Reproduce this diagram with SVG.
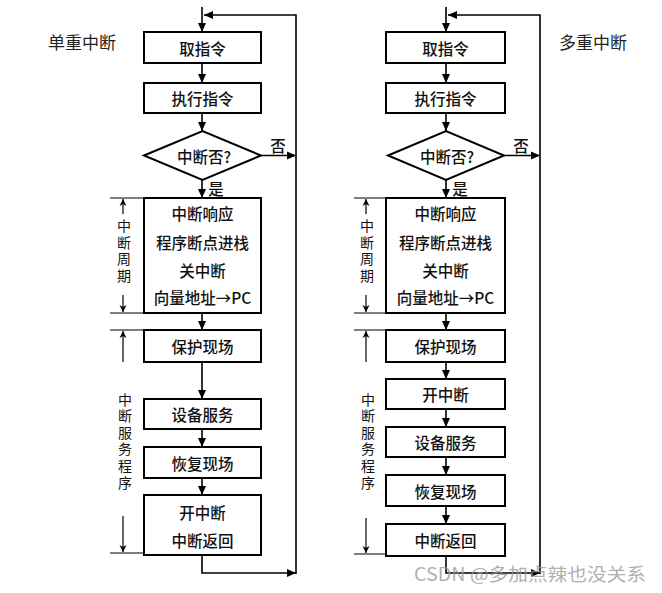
<svg xmlns="http://www.w3.org/2000/svg" width="662" height="593" viewBox="0 0 662 593">
<style>
.box{fill:#fff;stroke:#000;stroke-width:2}
.t{font-family:"Noto Sans CJK SC","Liberation Sans",sans-serif;font-size:15.5px;font-weight:500;text-anchor:middle;dominant-baseline:central;fill:#111}
.v{font-family:"Noto Sans CJK SC","Liberation Sans",sans-serif;font-size:14px;text-anchor:middle;fill:#111;writing-mode:vertical-rl;text-orientation:upright;letter-spacing:2.6px}
.title{font-family:"Noto Sans CJK SC","Liberation Sans",sans-serif;font-size:17px;fill:#222;dominant-baseline:central}
.c{fill:none;stroke:#000;stroke-width:1.6}
.b{fill:none;stroke:#000;stroke-width:1.2}
</style>
<defs>
<marker id="ah" markerWidth="10" markerHeight="10" refX="9" refY="5" orient="auto" markerUnits="userSpaceOnUse">
<path d="M0,1 L9,5 L0,9 Z" fill="#000"/>
</marker>
<marker id="sh" markerWidth="8" markerHeight="10" refX="7" refY="4" orient="auto" markerUnits="userSpaceOnUse">
<path d="M0,0.5 L7,4 L0,7.5 L2,4 Z" fill="#000"/>
</marker>
</defs>
<rect width="662" height="593" fill="#fff"/>

<text class="title" x="48" y="41">单重中断</text>
<text class="title" x="559" y="41">多重中断</text>

<g id="connectors">
<!-- left chart -->
<path class="c" d="M202,7 V32" marker-end="url(#ah)"/>
<path class="c" d="M202,63 V83" marker-end="url(#ah)"/>
<path class="c" d="M202,113 V131" marker-end="url(#ah)"/>
<path class="c" d="M202,180 V198" marker-end="url(#ah)"/>
<path class="c" d="M261,155.5 H296" marker-end="url(#ah)"/>
<path class="c" d="M202,313 V330" marker-end="url(#ah)"/>
<path class="c" d="M202,362 V399" marker-end="url(#ah)"/>
<path class="c" d="M202,429 V447" marker-end="url(#ah)"/>
<path class="c" d="M202,478 V495" marker-end="url(#ah)"/>
<path class="c" d="M202,555 V573 H296" marker-end="url(#ah)"/>
<path class="c" d="M296,574 V15 H204" marker-end="url(#ah)"/>
<text class="t" x="278" y="145">否</text>
<text class="t" x="216" y="188">是</text>
<!-- right chart -->
<path class="c" d="M446,7 V32" marker-end="url(#ah)"/>
<path class="c" d="M446,63 V83" marker-end="url(#ah)"/>
<path class="c" d="M446,113 V131" marker-end="url(#ah)"/>
<path class="c" d="M446,180 V198" marker-end="url(#ah)"/>
<path class="c" d="M504,155.5 H540" marker-end="url(#ah)"/>
<path class="c" d="M446,313 V330" marker-end="url(#ah)"/>
<path class="c" d="M446,362 V379" marker-end="url(#ah)"/>
<path class="c" d="M446,409 V427" marker-end="url(#ah)"/>
<path class="c" d="M446,457 V475" marker-end="url(#ah)"/>
<path class="c" d="M446,506 V524" marker-end="url(#ah)"/>
<path class="c" d="M446,556 V573 H540" marker-end="url(#ah)"/>
<path class="c" d="M540,574 V15 H448" marker-end="url(#ah)"/>
<text class="t" x="521" y="145">否</text>
<text class="t" x="460" y="188">是</text>
</g>

<g id="brackets-left">
<path class="b" d="M110,198 H143 M110,313 H143 M110,330 H143 M110,553 H143"/>
<path class="b" d="M123,214 V199" marker-end="url(#sh)"/>
<path class="b" d="M123,295 V312" marker-end="url(#sh)"/>
<path class="b" d="M123,362 V331" marker-end="url(#sh)"/>
<path class="b" d="M123,516 V552" marker-end="url(#sh)"/>
<text class="v" x="124" y="252">中断周期</text>
<text class="v" x="125" y="442">中断服务程序</text>
</g>
<g id="brackets-right">
<path class="b" d="M354,198 H386 M354,313 H386 M354,330 H386 M354,554 H386"/>
<path class="b" d="M366,214 V199" marker-end="url(#sh)"/>
<path class="b" d="M366,295 V312" marker-end="url(#sh)"/>
<path class="b" d="M366,362 V331" marker-end="url(#sh)"/>
<path class="b" d="M366,518 V553" marker-end="url(#sh)"/>
<text class="v" x="367" y="252">中断周期</text>
<text class="v" x="368" y="442">中断服务程序</text>
</g>

<!-- left nodes -->
<g id="L-fetch"><rect class="box" x="144" y="32" width="117" height="31"/><text class="t" x="202.5" y="47.5">取指令</text></g>
<g id="L-exec"><rect class="box" x="144" y="83" width="117" height="30"/><text class="t" x="202.5" y="98">执行指令</text></g>
<g id="L-decide"><polygon class="box" points="144,155.5 202.5,131 261,155.5 202.5,180"/><text class="t" x="204" y="156">中断否?</text></g>
<g id="L-cycle"><rect class="box" x="144" y="198" width="117" height="115"/>
<text class="t" x="202.5" y="213">中断响应</text>
<text class="t" x="202.5" y="242">程序断点进栈</text>
<text class="t" x="202.5" y="270">关中断</text>
<text class="t" x="202.5" y="297">向量地址→PC</text></g>
<g id="L-save"><rect class="box" x="144" y="330" width="117" height="32"/><text class="t" x="202.5" y="346">保护现场</text></g>
<g id="L-serve"><rect class="box" x="144" y="399" width="117" height="30"/><text class="t" x="202.5" y="414">设备服务</text></g>
<g id="L-restore"><rect class="box" x="144" y="447" width="117" height="31"/><text class="t" x="202.5" y="462.5">恢复现场</text></g>
<g id="L-return"><rect class="box" x="144" y="495" width="117" height="60"/>
<text class="t" x="202.5" y="512">开中断</text>
<text class="t" x="202.5" y="540">中断返回</text></g>

<!-- right nodes -->
<g id="R-fetch"><rect class="box" x="386" y="32" width="119" height="31"/><text class="t" x="445.5" y="47.5">取指令</text></g>
<g id="R-exec"><rect class="box" x="386" y="83" width="119" height="30"/><text class="t" x="445.5" y="98">执行指令</text></g>
<g id="R-decide"><polygon class="box" points="388,155.5 446,131 504,155.5 446,180"/><text class="t" x="447" y="156">中断否?</text></g>
<g id="R-cycle"><rect class="box" x="386" y="198" width="119" height="115"/>
<text class="t" x="445.5" y="213">中断响应</text>
<text class="t" x="445.5" y="242">程序断点进栈</text>
<text class="t" x="445.5" y="270">关中断</text>
<text class="t" x="445.5" y="297">向量地址→PC</text></g>
<g id="R-save"><rect class="box" x="386" y="330" width="119" height="32"/><text class="t" x="445.5" y="346">保护现场</text></g>
<g id="R-enable"><rect class="box" x="386" y="379" width="119" height="30"/><text class="t" x="445.5" y="394">开中断</text></g>
<g id="R-serve"><rect class="box" x="386" y="427" width="119" height="30"/><text class="t" x="445.5" y="442">设备服务</text></g>
<g id="R-restore"><rect class="box" x="386" y="475" width="119" height="31"/><text class="t" x="445.5" y="490.5">恢复现场</text></g>
<g id="R-return"><rect class="box" x="386" y="524" width="119" height="32"/><text class="t" x="445.5" y="540">中断返回</text></g>

<text x="414" y="573" textLength="232" lengthAdjust="spacingAndGlyphs" style="font-family:'Noto Sans CJK SC','Liberation Sans',sans-serif;font-size:18px;fill:#999;fill-opacity:0.8;dominant-baseline:central">CSDN @多加点辣也没关系</text>
</svg>
